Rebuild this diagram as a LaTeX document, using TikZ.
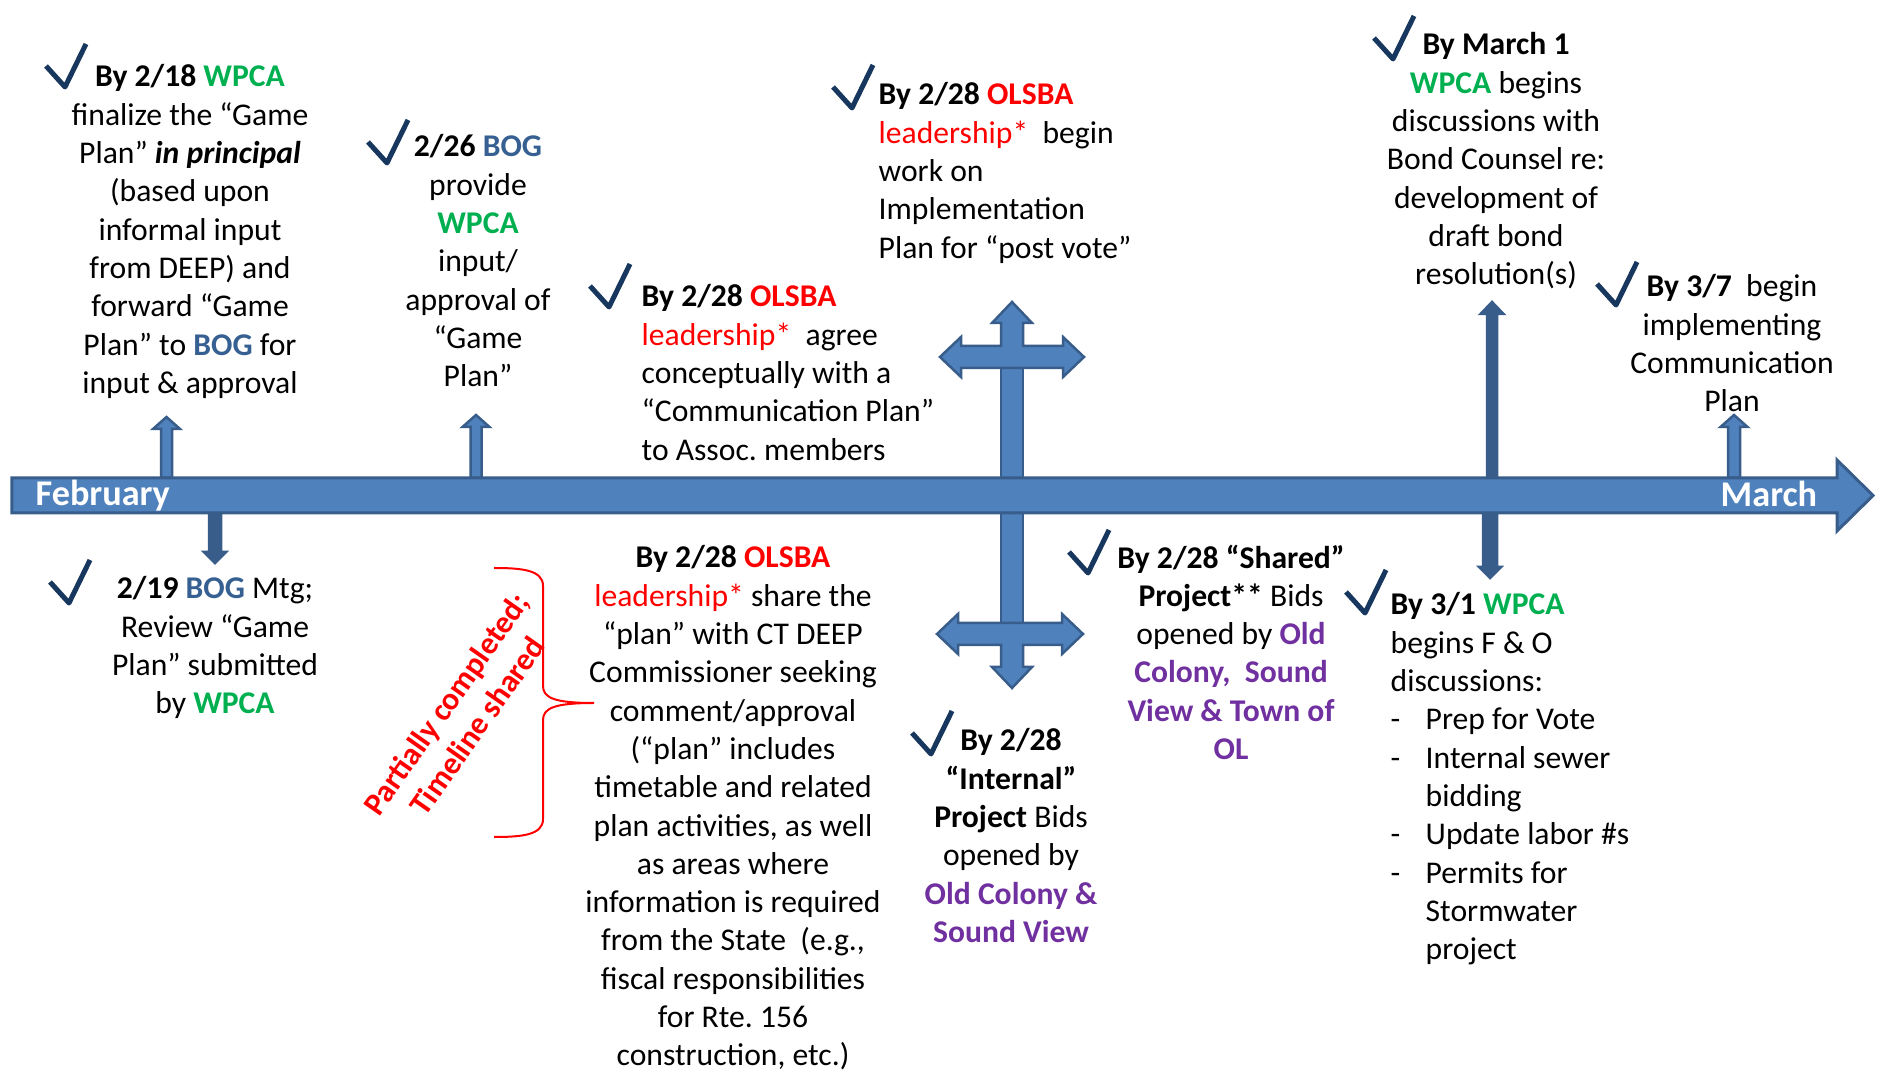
\documentclass[tikz,border=0pt]{standalone}
\usepackage{fontspec}
\setmainfont{Carlito}
\usepackage{tikz}
\definecolor{barblue}{HTML}{4F81BD}
\definecolor{bardark}{HTML}{385D8A}
\definecolor{tickblue}{HTML}{17375E}
\definecolor{wpcagreen}{HTML}{00B050}
\definecolor{bogblue}{HTML}{376092}
\definecolor{olsbared}{HTML}{FF0000}
\definecolor{townpurple}{HTML}{7030A0}
\newcommand{\wpca}{\textbf{\color{wpcagreen}WPCA}}
\newcommand{\bog}{\textbf{\color{bogblue}BOG}}
\newcommand{\olsba}{\textbf{\color{olsbared}OLSBA}}
\newcommand{\leadership}{{\color{olsbared}leadership*}}
\newcommand{\town}[1]{\textbf{\color{townpurple}#1}}
\newcommand{\listdash}{\makebox[0.35cm][l]{-}}
\newcommand{\listpad}{\hspace*{0.35cm}}
\newcommand{\tickat}[1]{\draw[donemark] #1 ++(-0.19,-0.21) -- #1 -- ++(0.21,-0.43) ;}
\newcommand{\uparrowat}[5][]{\draw[blockarrow,#1] #2 ++(-#4,0) -- ++(0,{-#3+0.12}) -- ++({#4-#5},0) -- ++(#5,-0.12) -- ++(#5,0.12) -- ++({#4-#5},0) -- ++(0,{#3-0.12}) -- cycle ;}
\newcommand{\downarrowat}[5][]{\draw[blockarrow,#1] #2 ++(-#4,0) -- ++(0,{#3-0.11}) -- ++({#4-#5},0) -- ++(#5,0.11) -- ++(#5,-0.11) -- ++({#4-#5},0) -- ++(0,{-#3+0.11}) -- cycle ;}

\begin{document}
\begin{tikzpicture}[x=1cm,y=-1cm,
    txt/.style={inner sep=0pt,align=center,font=\fontsize{9}{10.9}\selectfont,execute at begin node=\strut},
    month/.style={inner sep=0pt,text=white,font=\fontsize{10.3}{12}\selectfont\bfseries},
    donemark/.style={draw=tickblue,line width=0.05cm,line join=round},
    blockarrow/.style={fill=barblue,draw=bardark,line width=0.025cm,line join=miter},
    bracered/.style={draw=olsbared,line width=0.02cm}]
        \useasboundingbox (0,0) rectangle (18.83,10.81);

        % arrows to the events
        \uparrowat{(1.665,4.78)}{0.61}{0.055}{0.135}
        \uparrowat{(4.76,4.78)}{0.63}{0.055}{0.135}
        \uparrowat[fill=bardark]{(14.92,4.78)}{1.76}{0.05}{0.115}
        \uparrowat{(17.34,4.78)}{0.63}{0.06}{0.135}
        \downarrowat[fill=bardark]{(2.15,5.13)}{0.50}{0.06}{0.11}
        \downarrowat[fill=bardark]{(14.90,5.13)}{0.65}{0.07}{0.11}

        % 2/28 cross
        \draw[blockarrow] (10.01,3.68) rectangle (10.23,4.78);
        \draw[blockarrow] (9.40,3.57) -- (9.61,3.37) -- (9.61,3.46) -- (10.01,3.46) -- (10.01,3.23) -- (9.92,3.23) -- (10.12,3.02) -- (10.32,3.23) -- (10.23,3.23) -- (10.23,3.46) -- (10.63,3.46) -- (10.63,3.37) -- (10.84,3.57) -- (10.63,3.77) -- (10.63,3.68) -- (9.61,3.68) -- (9.61,3.77) -- cycle;
        \draw[blockarrow] (10.01,5.13) rectangle (10.23,6.23);
        \draw[blockarrow] (9.37,6.34) -- (9.58,6.14) -- (9.58,6.23) -- (10.62,6.23) -- (10.62,6.14) -- (10.83,6.34) -- (10.62,6.54) -- (10.62,6.45) -- (10.23,6.45) -- (10.23,6.67) -- (10.32,6.67) -- (10.12,6.88) -- (9.92,6.67) -- (10.01,6.67) -- (10.01,6.45) -- (9.58,6.45) -- (9.58,6.54) -- cycle;

        % timeline
        \draw[blockarrow,line width=0.03cm] (0.12,4.78) -- (18.37,4.78) -- (18.37,4.60) -- (18.73,4.955) -- (18.37,5.31) -- (18.37,5.13) -- (0.12,5.13) -- cycle;
        \node[month,anchor=base west] (feb) at (0.35,5.06) {February};
        \node[month,anchor=base west] (mar) at (17.20,5.07) {March};

        % above the line
        \tickat{(0.65,0.87)}
        \node[txt,anchor=north] (e218) at (1.90,0.64) {\textbf{By 2/18 \wpca}\\finalize the “Game\\Plan” \textbf{\textit{in principal}}\\(based upon\\informal input\\from DEEP) and\\forward “Game\\Plan” to \bog{} for\\input \& approval};
        \tickat{(3.87,1.63)}
        \node[txt,anchor=north] (e226) at (4.78,1.34) {\textbf{2/26 \bog}\\provide\\\wpca\\input/\\approval of\\“Game\\Plan”};
        \tickat{(6.09,3.07)}
        \node[txt,align=left,anchor=north west] (eagree) at (6.41,2.84) {\textbf{By 2/28 \olsba}\\\leadership\ \ agree\\conceptually with a\\“Communication Plan”\\to Assoc.\ members};
        \tickat{(8.52,1.08)}
        \node[txt,align=left,anchor=north west] (ebegin) at (8.78,0.82) {\textbf{By 2/28 \olsba}\\\leadership\ \ begin\\work on\\Implementation\\Plan for “post vote”};
        \tickat{(13.93,0.59)}
        \node[txt,anchor=north] (emar1) at (14.96,0.32) {\textbf{By March 1}\\\wpca{} begins\\discussions with\\Bond Counsel re:\\development of\\draft bond\\resolution(s)};
        \tickat{(16.16,3.05)}
        \node[txt,anchor=north] (e37) at (17.32,2.74) {\textbf{By 3/7}\ \ begin\\implementing\\Communication\\Plan};

        % below the line
        \tickat{(0.69,6.03)}
        \node[txt,anchor=north] (e219) at (2.15,5.76) {\textbf{2/19 \bog} Mtg;\\Review “Game\\Plan” submitted\\by \wpca};
        \draw[bracered] (4.94,5.68) .. controls (5.22,5.68) and (5.43,5.70) .. (5.43,5.86) -- (5.43,6.86) .. controls (5.43,6.98) and (5.55,7.03) .. (5.94,7.03) .. controls (5.55,7.03) and (5.43,7.08) .. (5.43,7.20) -- (5.43,8.19) .. controls (5.43,8.35) and (5.22,8.37) .. (4.94,8.37);
        \node[txt,rotate=55,text=olsbared,font=\fontsize{9}{10.9}\selectfont\bfseries] (epart) at (4.66,7.18) {Partially completed;\\Timeline shared};
        \node[txt,anchor=north] (eshare) at (7.33,5.45) {\textbf{By 2/28 \olsba}\\\leadership{} share the\\“plan” with CT DEEP\\Commissioner seeking\\comment/approval\\(“plan” includes\\timetable and related\\plan activities, as well\\as areas where\\information is required\\from the State\ \ (e.g.,\\fiscal responsibilities\\for Rte.\ 156\\construction, etc.)};
        \tickat{(9.31,7.54)}
        \node[txt,anchor=north] (eint) at (10.11,7.28) {\textbf{By 2/28}\\\textbf{“Internal”}\\\textbf{Project} Bids\\opened by\\\town{Old Colony \&}\\\town{Sound View}};
        \tickat{(10.88,5.73)}
        \node[txt,anchor=north] (eshared) at (12.31,5.44) {\textbf{By 2/28 “Shared”}\\\textbf{Project**} Bids\\opened by \town{Old}\\\town{Colony,\ \ Sound}\\\town{View \& Town of}\\\town{OL}};
        \tickat{(13.65,6.13)}
        \node[txt,align=left,anchor=north west] (e31) at (13.90,5.92) {\textbf{By 3/1 \wpca}\\begins F \& O\\discussions:\\\listdash Prep for Vote\\\listdash Internal sewer\\\listpad bidding\\\listdash Update labor \#s\\\listdash Permits for\\\listpad Stormwater\\\listpad project};
\end{tikzpicture}
\end{document}
